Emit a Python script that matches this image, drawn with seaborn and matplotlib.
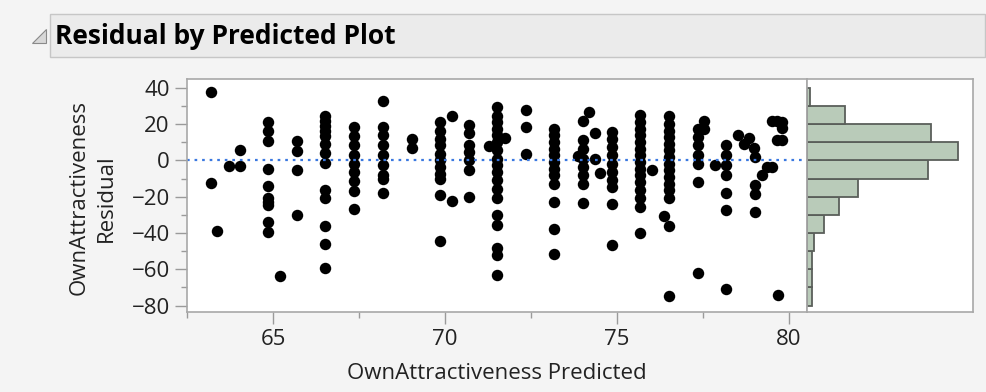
import numpy as np
import matplotlib
matplotlib.use("Agg")
import matplotlib.pyplot as plt
from matplotlib.patches import Rectangle, Polygon
import seaborn as sns
import pandas as pd

# residual by predicted values
predicted = ([63.2] * 2 + [63.38, 63.71] + [64.03] * 2 + [64.86] * 10 + [65.19] + [65.70] * 4
             + [66.52] * 13 + [67.36] * 9 + [68.21] * 9 + [69.03] * 2 + [69.85] * 11 + [70.19] * 2
             + [70.69] * 7 + [71.51] * 18 + [71.29, 71.73] + [72.36] * 3 + [73.18] * 12 + [73.86]
             + [74.0] * 8 + [74.18] + [74.35] * 2 + [74.51] + [74.86] * 10 + [75.68] * 15
             + [76.01, 76.35] + [76.52] * 15 + [77.34] * 7 + [77.53] * 2 + [77.85] + [78.18] * 7
             + [78.52, 78.68, 78.84, 78.97] + [79.02] * 4 + [79.2, 79.36] + [79.5] * 2
             + [79.65] * 2 + [79.8] * 3 + [79.67])
residual = [37.8, -12.4, -38.7, -2.9, 5.9, -3.3,
            21.0, 15.9, 10.8, -4.6, -14.2, -21.0, -22.8, -24.7, -33.8, -39.3,
            -63.7,
            10.4, 4.9, -5.1, -30.1,
            24.3, 21.5, 18.8, 15.9, 13.2, 8.8, 4.0, -1.3, -16.1, -21.0, -36.0, -46.0, -59.0,
            18.3, 13.2, 8.2, 3.1, -1.8, -6.4, -11.5, -16.8, -26.8,
            32.5, 18.3, 13.7, 8.2, 3.1, -2.7, -8.2, -10.1, -17.7,
            11.9, 6.8,
            21.0, 16.4, 11.9, 8.2, 3.7, 0.0, -3.7, -7.3, -10.0, -18.8, -44.2,
            24.7, -22.5,
            19.2, 15.2, 8.2, 4.6, 0.0, -5.1, -20.1,
            29.2, 24.7, 21.0, 17.4, 13.7, 10.0, 5.5, 0.9, -2.7, -6.4, -11.0, -15.5, -21.0,
            -30.1, -35.6, -48.4, -52.1, -63.0,
            7.7, 12.2,
            27.8, 18.3, 3.3,
            17.4, 13.7, 10.0, 6.4, 2.7, -0.9, -4.6, -8.2, -12.8, -22.8, -37.8, -51.7,
            2.2,
            21.4, 11.0, 6.4, 0.9, -3.7, -8.2, -12.8, -23.4,
            26.8,
            15.2, 0.9,
            -6.8,
            15.5, 11.9, 7.3, 2.7, -1.8, -6.4, -11.0, -14.6, -24.3, -46.6,
            25.0, 21.0, 17.4, 13.7, 10.0, 6.4, 2.7, -0.9, -4.6, -8.2, -11.9, -16.4, -21.0, -25.6, -40.2,
            -5.5, -30.7,
            24.3, 20.1, 16.4, 12.8, 9.1, 5.5, 1.8, -1.8, -5.5, -9.1, -12.8, -16.4, -21.0, -36.0, -74.9,
            17.4, 12.8, 8.2, 2.7, -1.8, -11.9, -62.1,
            21.5, 17.4,
            -2.4,
            8.6, 2.7, -2.4, -7.9, -17.7, -27.4, -70.7,
            14.1, 9.1, 12.3, 6.8,
            1.8, -13.3, -18.3, -28.3,
            -8.2, -3.7,
            -3.7, 21.4,
            21.4, 11.0,
            21.0, 17.7, 11.0,
            -74.0]

# histogram of residuals (bin centres and counts, bins of 10)
bin_centers = [-75, -65, -55, -45, -35, -25, -15, -5, 5, 15, 25, 35]
bin_counts = [3, 3, 3, 4, 10, 19, 31, 73, 91, 75, 23, 2]

x_ticks = [65, 70, 75, 80]
y_ticks = [40, 20, 0, -20, -40, -60, -80]

df = pd.DataFrame({"pred": predicted, "resid": residual})
hist_df = pd.DataFrame({"mid": bin_centers, "n": bin_counts})

sns.set_style("white")
plt.rcParams["font.family"] = ["Open Sans", "DejaVu Sans"]

fig = plt.figure(figsize=(9.87, 3.92), dpi=100)
fig.patch.set_facecolor("#f4f4f4")

# header bar
fig.patches.append(Rectangle((50 / 987, 1 - 57 / 392), 935 / 987, 43 / 392, transform=fig.transFigure,
                             facecolor="#ebebeb", edgecolor="#c6c6c6", linewidth=1))
fig.patches.append(Polygon([(46 / 987, 1 - 29 / 392), (46 / 987, 1 - 43 / 392), (32 / 987, 1 - 43 / 392)],
                           closed=True, transform=fig.transFigure,
                           facecolor="#d8d8d8", edgecolor="#8a8a8a", linewidth=0.8))
fig.text(55 / 987, 1 - 36 / 392, "Residual by Predicted Plot", fontsize=19, fontweight="bold",
         va="center", ha="left", color="black")

ax = fig.add_axes([187 / 987, 1 - 312 / 392, 620 / 987, 233 / 392])
axh = fig.add_axes([807 / 987, 1 - 312 / 392, 166 / 987, 233 / 392], sharey=ax)

sns.scatterplot(data=df, x="pred", y="resid", ax=ax, color="black", s=68, linewidth=0)
ax.axhline(0, color="#3a78e0", linestyle=(0, (1.2, 2.2)), linewidth=1.6, zorder=1)

ax.set_xlim(62.52, 80.52)
ax.set_ylim(-83.5, 44.8)
ax.set_xticks(x_ticks)
ax.set_yticks(y_ticks)
ax.set_xticks([62.5, 67.5, 72.5, 77.5], minor=True)
ax.set_yticks([30, 10, -10, -30, -50, -70], minor=True)
ax.tick_params(which="major", direction="out", length=8.5, width=1, color="#9a9a9a",
               labelsize=16, labelcolor="#222222", pad=4)
ax.tick_params(which="minor", direction="out", length=4.5, width=1, color="#9a9a9a")
ax.tick_params(axis="x", which="both", bottom=True)
ax.tick_params(axis="y", which="both", left=True)
ax.set_xlabel("OwnAttractiveness Predicted", fontsize=16, color="#222222", va="center")
ax.xaxis.set_label_coords(0.5, -0.262)
ax.set_ylabel("OwnAttractiveness\nResidual", fontsize=16, color="#222222", va="center",
              linespacing=1.45)
ax.yaxis.set_label_coords(-0.152, 0.49)
for s in ax.spines.values():
    s.set_color("#a8a8a8")
    s.set_linewidth(1.2)

sns.histplot(data=hist_df, y="mid", weights="n", binwidth=10, binrange=(-80, 40), ax=axh,
             color="#b9cbb9", edgecolor="#5a5f5a", linewidth=1.3, alpha=1)
axh.set_xlim(0, 100)
axh.set_xlabel("")
axh.set_ylabel("")
axh.tick_params(left=False, bottom=False, labelleft=False, labelbottom=False)
for s in axh.spines.values():
    s.set_color("#a8a8a8")
    s.set_linewidth(1.2)

fig.savefig("out.png", dpi=100, facecolor=fig.get_facecolor())
